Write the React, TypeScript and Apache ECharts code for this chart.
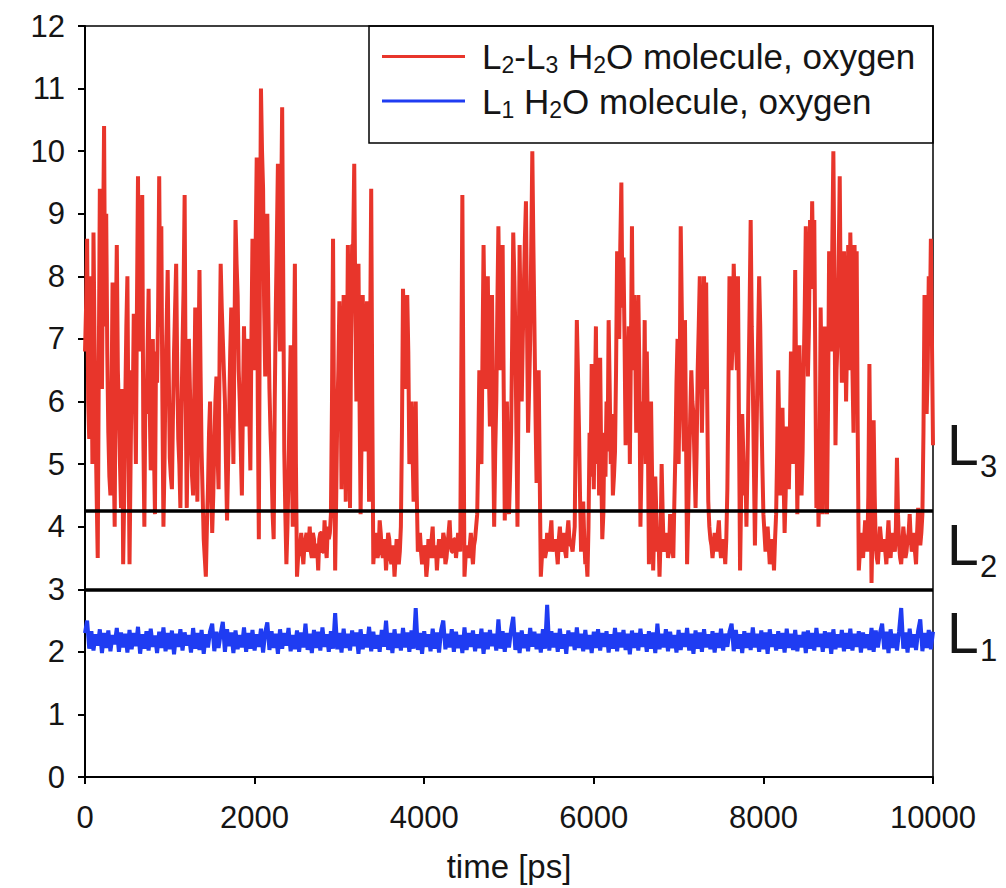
import React, { useEffect, useRef } from "react";
import * as echarts from "echarts";

const FONT = "'Liberation Sans', Arial, Helvetica, sans-serif";
const RED = "#e8352b";
const BLUE = "#1f3cf2";
const NAME_RED = "L2-L3 H2O molecule, oxygen";
const NAME_BLUE = "L1 H2O molecule, oxygen";

// time step between samples [ps]
const TIME_STEP = 25;
const X_TICKS = [0, 2000, 4000, 6000, 8000, 10000];
const Y_TICKS = [0, 1, 2, 3, 4, 5, 6, 7, 8, 9, 10, 11, 12];
const LAYER_BOUNDS = [4.25, 3];

// distance of L2-L3 water oxygen, read at t = 0, 25, 50 ... 10000 ps
const redValues = [
  6.8, 8.6, 5.4, 7.2, 8.7, 5.6, 3.5, 9.4, 6.2, 10.4, 9.0, 5.5, 4.5, 7.9, 4.0, 8.5, 5.8, 4.3, 3.4, 6.0, 8.0, 3.4,
  6.5, 7.4, 5.0, 9.6, 6.8, 9.3, 4.0, 5.8, 7.8, 4.9, 7.0, 4.2, 6.3, 9.6, 8.8, 4.0, 6.5, 8.1, 5.1, 4.6, 6.8, 8.2,
  5.4, 4.3, 6.9, 9.3, 4.3, 7.0, 5.5, 4.5, 7.5, 4.4, 8.1, 5.2, 3.8, 3.2, 4.6, 6.0,
  3.9, 5.3, 6.4, 4.6, 8.2, 7.0, 6.0, 4.1, 5.8, 7.5, 5.0, 8.9, 7.7, 6.0, 4.5, 7.2, 5.6, 7.0, 4.9, 8.6, 6.5, 9.9,
  3.8, 11.0, 9.4, 6.4, 9.0, 6.2, 5.0, 3.8, 7.5, 9.8, 6.8, 10.7, 5.2, 3.4, 4.8, 6.9, 4.0, 8.2, 3.2,
  3.6, 3.9, 3.4, 3.8, 3.6, 4.0, 3.5, 3.8, 3.7, 3.3, 3.9, 3.6, 4.1, 3.5, 3.8, 4.2,
  8.6, 3.3, 5.8, 7.6, 4.6, 7.7, 4.4, 8.5, 4.3, 8.5, 9.8, 6.0, 8.2, 4.2, 7.7, 5.2, 7.6, 4.4, 9.4, 3.4,
  3.9, 3.5, 4.1, 3.6, 3.8, 3.3, 3.9, 3.5, 3.7, 3.2, 3.8, 3.4, 4.0,
  7.8, 6.2, 7.7, 5.0, 6.0, 4.4, 6.0, 3.6,
  3.9, 3.4, 3.7, 3.2, 3.8, 3.5, 4.0, 3.6, 3.3, 3.8, 3.5, 3.9, 3.4, 3.7, 4.1, 3.6, 3.8, 3.5, 3.9, 3.6,
  9.3, 3.2,
  3.7, 3.5, 3.9, 3.4, 3.8, 4.2,
  6.5, 5.0, 8.5, 6.2, 8.0, 5.6, 7.7, 4.0, 6.0, 8.8, 6.5, 8.5, 4.1, 6.0, 4.2, 5.5, 8.7, 7.1, 4.0, 8.5, 6.0, 7.8,
  9.2, 5.5, 7.0, 10.0, 7.2, 4.7, 6.5, 3.2,
  3.8, 3.5, 3.9, 3.6, 4.1, 3.7, 3.8, 3.4, 4.0, 3.6, 3.9, 3.5, 4.1, 3.7, 3.6, 4.0,
  7.3, 5.6, 3.6, 4.4, 3.4, 3.2, 5.5, 6.6, 4.6, 7.2, 6.0, 6.7, 3.8, 5.5, 6.0, 7.3, 5.0, 4.5, 5.2, 8.4, 7.0, 9.5,
  8.3, 5.3, 6.5, 5.0, 8.8, 7.7, 5.5, 7.7, 4.0, 6.0, 7.3, 6.8, 3.4, 6.0, 3.3, 4.8, 3.6, 3.2, 5.0, 3.6, 3.8, 3.5,
  4.2, 3.7, 4.4, 6.3,
  5.0, 8.8, 6.0, 7.3, 3.4, 5.0, 6.5, 5.8, 4.3, 6.5, 8.0, 5.5, 8.0, 7.9, 4.4, 3.8, 3.5, 3.9, 3.6, 4.1, 3.5, 3.8,
  3.4, 4.6, 8.0, 6.5, 8.2, 7.0, 8.0, 3.3, 5.8, 4.5, 4.0, 6.3, 8.9, 6.3, 3.7, 6.0, 8.0, 6.0, 4.2, 3.6, 4.0, 3.4,
  3.8, 3.3, 4.2, 6.5, 4.5, 5.9, 3.9, 5.6, 4.6, 6.8, 5.0, 8.1, 4.2,
  6.9, 4.5, 6.5, 8.8, 6.4, 8.9, 9.2, 8.9, 4.3, 4.0, 7.5, 4.2, 7.2, 4.2, 8.4, 6.8, 10.0, 5.3, 7.0, 9.6, 6.3, 8.4,
  6.0, 8.5, 8.7, 6.5, 8.5, 8.4, 3.3, 3.9, 3.5, 4.1, 3.6, 6.6, 3.1, 5.7, 3.7, 3.4, 4.0, 3.6, 3.8, 3.4, 4.1, 3.5,
  3.9, 3.6, 5.1, 3.7, 3.4, 4.0, 3.5, 3.8, 4.2, 3.6, 3.9, 3.4, 4.3, 3.7, 4.2, 7.7, 5.8, 8.0, 8.6, 5.3,
];

// distance of L2-L3 water oxygen, read at the in-between times t = 12.5, 37.5 ... 9987.5 ps
const redValuesMid = [
  7.5, 6.0, 8.0, 5.0, 7.0, 4.5, 6.5, 7.8, 8.5, 7.2, 6.8, 4.8, 6.0, 5.2, 7.0, 6.5, 5.0, 6.2, 4.5, 7.2, 5.5, 5.0,
  5.8, 6.2, 7.5, 7.0, 8.0, 5.5, 6.2, 6.8, 6.0, 5.5, 5.3, 6.8, 7.5, 7.2, 6.0, 5.0, 7.2, 6.5, 4.8, 5.8,
  7.5, 6.5, 5.0, 5.8, 7.8, 6.0, 5.5, 6.2, 4.8, 6.0, 5.8, 6.5, 6.5, 4.5, 3.5, 4.0, 5.5, 4.8,
  4.5, 6.0, 5.2, 6.8, 7.5, 6.5, 5.0, 5.0, 6.8, 6.2, 7.0, 8.2, 6.5, 5.2, 6.0, 6.3, 6.5, 5.8, 7.0, 7.5,
  8.5, 6.0, 8.0, 10.0, 7.5, 8.0, 7.5, 5.5, 4.2, 6.0, 8.6, 8.0, 9.0, 8.0, 4.2, 4.0, 6.0, 5.2, 6.5, 5.0,
  3.5, 3.7, 3.6, 3.7, 3.9, 3.7, 3.6, 3.9, 3.5, 3.7, 3.8, 3.9, 3.6, 3.7, 4.0, 3.9,
  6.0, 5.5, 4.5, 6.5, 6.8, 6.0, 6.5, 6.2, 6.8, 7.0, 8.5, 7.5, 6.5, 6.0, 5.5, 6.8, 6.2, 6.5, 7.0, 6.0,
  3.7, 3.8, 3.6, 3.9, 3.5, 3.7, 3.6, 3.8, 3.4, 3.6, 3.5, 3.7, 3.6,
  5.5, 7.2, 6.5, 6.8, 5.5, 5.2, 5.0, 4.5,
  3.7, 3.6, 3.5, 3.6, 3.4, 3.7, 3.8, 3.5, 3.7, 3.6, 3.7, 3.6, 3.8, 3.5, 3.9, 3.7, 3.6, 3.8, 3.7, 3.8,
  6.5, 6.0, 3.5,
  3.6, 3.7, 3.6, 3.7, 4.0, 5.2,
  5.8, 6.8, 7.2, 7.0, 6.5, 6.8, 5.5, 5.2, 7.5, 7.5, 7.2, 6.2, 5.0, 5.0, 4.8, 7.0, 8.0, 5.5, 6.2, 7.2,
  7.0, 8.6, 7.2, 6.2, 8.5, 8.5, 5.8, 5.5, 4.8,
  3.5, 3.7, 3.6, 3.8, 3.9, 3.6, 3.7, 3.6, 3.8, 3.7, 3.8, 3.6, 3.9, 3.8, 3.7, 3.8,
  5.8,
  6.5, 4.5, 3.9, 3.8, 3.5, 4.0, 4.8, 5.5, 6.0, 5.0, 4.5, 5.0, 4.2, 4.8, 5.2, 6.2, 5.8, 4.8, 6.5, 8.0,
  8.5, 7.5, 7.0, 6.0, 7.2, 6.8, 6.5, 7.0, 6.2, 6.5, 5.0, 5.5, 5.0, 5.5, 4.5, 4.8, 4.0, 4.2, 3.9, 3.8,
  4.2, 3.7, 3.9, 3.6, 3.9, 3.5, 5.2,
  7.0, 6.2, 7.5, 5.2, 5.5, 4.2, 5.8, 6.0, 5.0, 5.2, 7.2, 6.8, 6.5, 6.2, 6.0, 4.0, 3.7, 3.7, 3.8, 3.9,
  3.7, 3.6, 3.7, 3.8, 6.2, 7.5, 7.0, 7.5, 6.5, 5.5, 4.5, 5.2, 5.0, 5.0, 7.5, 7.2, 5.0, 4.8, 7.0, 7.2,
  5.0, 3.9, 3.8, 3.7, 3.6, 3.7, 3.8, 5.2, 5.5, 5.0, 4.8, 4.5, 5.2, 5.5, 6.2, 6.5, 6.0,
  5.5, 6.0, 5.2, 7.5, 7.8, 7.2, 7.8, 8.0, 6.5, 5.5, 5.0, 6.2, 5.5, 6.0, 6.0, 7.5, 8.5, 8.0, 6.5, 8.2,
  7.5, 7.2, 7.5, 7.0, 6.5, 7.8, 5.5, 6.8, 5.5, 3.6, 3.7, 3.8, 3.9, 4.5, 4.8, 4.0, 4.5, 3.5, 3.7, 3.8,
  3.7, 3.6, 3.8, 3.7, 3.8, 3.7, 4.0, 4.2, 3.5, 3.7, 3.8, 3.6, 3.9, 3.8, 3.7, 3.6, 3.9, 4.0, 3.9, 5.5,
  6.8, 6.5, 7.2, 7.0,
];

// distance of L1 water oxygen, read at t = 0, 25, 50 ... 10000 ps
const blueValues = [
  2.30, 2.50, 2.05, 2.33, 2.02, 2.28, 2.10, 2.36, 1.98, 2.30, 2.06, 2.34, 2.01, 2.27, 2.12, 2.38, 2.00, 2.31, 2.07, 2.29,
  1.99, 2.35, 2.04, 2.30, 2.09, 2.40, 1.97, 2.28, 2.05, 2.33, 2.02, 2.37, 2.08, 2.26, 1.98, 2.32, 2.06, 2.39, 2.01, 2.30,
  2.04, 2.34, 1.96, 2.29, 2.08, 2.36, 2.02, 2.31, 2.10, 2.27, 1.99, 2.38, 2.05, 2.30, 2.03, 2.35, 1.97, 2.28, 2.07, 2.33,
  2.45, 2.01, 2.32, 2.06, 2.29, 2.48, 2.00, 2.36, 2.09, 2.31, 1.98, 2.34, 2.04, 2.27, 2.07, 2.39, 2.00, 2.30, 2.05, 2.35,
  2.02, 2.28, 2.08, 2.37, 1.99, 2.31, 2.47, 2.03, 2.33, 2.06, 2.29, 1.97, 2.36, 2.05, 2.30, 2.10, 2.38, 2.01, 2.27, 2.04,
  2.34, 2.00, 2.31, 2.07, 2.45, 2.03, 2.29, 1.98, 2.35, 2.06, 2.32, 2.02, 2.39, 2.08, 2.28, 2.00, 2.33, 2.05, 2.62, 2.04,
  2.30, 1.99, 2.37, 2.06, 2.29, 2.02, 2.34, 2.09, 2.31, 1.97, 2.36, 2.04, 2.28, 2.07, 2.40, 2.01, 2.32, 2.05, 2.27, 2.00,
  2.35, 2.08, 2.50, 2.03, 2.30, 1.98, 2.36, 2.06, 2.29, 2.02, 2.38, 2.07, 2.31, 2.00, 2.34, 2.05, 2.70, 2.03, 2.30, 1.97,
  2.33, 2.08, 2.28, 2.01, 2.37, 2.05, 2.31, 1.99, 2.35, 2.50, 2.04, 2.29, 2.07, 2.36, 2.00, 2.32, 2.06, 2.27, 1.98, 2.39,
  2.03, 2.30, 2.08, 2.34, 2.01, 2.28, 2.06, 2.37, 1.97, 2.31, 2.04, 2.35, 2.09, 2.29, 2.02, 2.52, 2.05, 2.33, 2.00, 2.30,
  2.07, 2.36, 2.56, 2.03, 2.31, 1.98, 2.34, 2.06, 2.28, 2.01, 2.38, 2.08, 2.32, 2.04, 2.29, 1.99, 2.36, 2.05, 2.75, 2.02,
  2.33, 2.07, 2.30, 2.00, 2.37, 2.05, 2.28, 1.97, 2.34, 2.09, 2.31, 2.03, 2.39, 2.06, 2.29, 2.01, 2.35, 2.04, 2.27, 1.98,
  2.32, 2.06, 2.36, 2.02, 2.30, 2.08, 2.33, 1.99, 2.28, 2.05, 2.38, 2.01, 2.31, 2.07, 2.35, 2.03, 2.29, 1.96, 2.34, 2.06,
  2.30, 2.02, 2.37, 2.08, 2.28, 2.00, 2.33, 2.05, 2.31, 1.98, 2.45, 2.04, 2.29, 2.07, 2.36, 2.01, 2.32, 2.06, 2.27, 1.99,
  2.35, 2.03, 2.30, 2.08, 2.38, 2.02, 2.29, 1.97, 2.34, 2.05, 2.31, 2.00, 2.36, 2.07, 2.28, 2.04, 2.33, 1.99, 2.30, 2.06,
  2.37, 2.02, 2.29, 2.08, 2.32, 2.45, 2.01, 2.35, 2.05, 2.28, 1.98, 2.33, 2.06, 2.30, 2.03, 2.39, 2.07, 2.29, 2.00, 2.34,
  2.04, 2.31, 1.97, 2.36, 2.08, 2.28, 2.02, 2.33, 2.05, 2.30, 1.99, 2.37, 2.06, 2.29, 2.03, 2.35, 2.01, 2.27, 2.07, 2.32,
  1.98, 2.34, 2.05, 2.30, 2.02, 2.38, 2.08, 2.29, 2.00, 2.33, 2.06, 2.31, 1.97, 2.36, 2.04, 2.28, 2.07, 2.35, 2.01, 2.30,
  2.05, 2.37, 2.02, 2.29, 2.08, 2.33, 1.99, 2.31, 2.06, 2.28, 2.03, 2.38, 2.00, 2.34, 2.07, 2.30, 2.45, 2.04, 2.32, 1.98,
  2.36, 2.06, 2.29, 2.02, 2.33, 2.70, 2.05, 2.31, 1.99, 2.37, 2.07, 2.28, 2.03, 2.34, 2.52, 2.01, 2.30, 2.06, 2.35, 2.04,
  2.32,
];

const LAYER_LABELS = [
  { main: "L", sub: "3", y: 445, subY: 466 },
  { main: "L", sub: "2", y: 545, subY: 566 },
  { main: "L", sub: "1", y: 633, subY: 650 },
];

const redPairs = () => {
  const out: number[][] = [];
  redValues.forEach((v, i) => {
    out.push([i * TIME_STEP, v]);
    if (i < redValuesMid.length) out.push([i * TIME_STEP + TIME_STEP / 2, redValuesMid[i]]);
  });
  return out;
};
const bluePairs = () => blueValues.map((v, i) => [i * TIME_STEP, v]);

export default function App() {
  const ref = useRef<HTMLDivElement>(null);

  useEffect(() => {
    if (!ref.current) return;
    const chart = echarts.init(ref.current, null, { renderer: "svg" });
    const textColor = "#151515";
    const option: any = {
      animation: false,
      backgroundColor: "#ffffff",
      textStyle: { fontFamily: FONT },
      grid: {
        left: 85,
        right: 73,
        top: 26,
        bottom: 110,
        show: true,
        borderColor: "#000",
        borderWidth: 1.5,
        backgroundColor: "transparent",
      },
      legend: {
        orient: "vertical",
        left: 382,
        top: 39,
        padding: 0,
        itemGap: 7,
        itemWidth: 83,
        itemHeight: 3,
        icon: "rect",
        selectedMode: false,
        data: [NAME_RED, NAME_BLUE],
        formatter: (name: string) =>
          name === NAME_RED
            ? "{f|L}{s|2}{n|-L}{s|3}{n| H}{s|2}{n|O molecule, oxygen}"
            : "{f|L}{s|1}{n| H}{s|2}{n|O molecule, oxygen}",
        textStyle: {
          fontFamily: FONT,
          color: textColor,
          rich: {
            f: { fontSize: 35, lineHeight: 40, padding: [0, 0, 0, 12], color: textColor, fontFamily: FONT },
            n: { fontSize: 35, lineHeight: 40, color: textColor, fontFamily: FONT },
            s: { fontSize: 23, lineHeight: 18, verticalAlign: "bottom", color: textColor, fontFamily: FONT },
          },
        },
      },
      xAxis: {
        type: "value",
        min: X_TICKS[0],
        max: X_TICKS[X_TICKS.length - 1],
        interval: X_TICKS[1] - X_TICKS[0],
        name: "time [ps]",
        nameLocation: "middle",
        nameGap: 73,
        nameTextStyle: { fontSize: 33, color: textColor, fontFamily: FONT },
        axisLine: { lineStyle: { color: "#000", width: 2 } },
        axisTick: { inside: false, length: 7, lineStyle: { color: "#000", width: 2 } },
        axisLabel: {
          fontSize: 31,
          color: textColor,
          margin: 25,
          fontFamily: FONT,
          formatter: (v: number) => String(v),
        },
        splitLine: { show: false },
      },
      yAxis: {
        type: "value",
        min: Y_TICKS[0],
        max: Y_TICKS[Y_TICKS.length - 1],
        interval: Y_TICKS[1] - Y_TICKS[0],
        axisLine: { show: true, lineStyle: { color: "#000", width: 2 } },
        axisTick: { show: true, inside: false, length: 7, lineStyle: { color: "#000", width: 2 } },
        axisLabel: { fontSize: 31, color: textColor, margin: 20, fontFamily: FONT },
        splitLine: { show: false },
      },
      series: [
        {
          name: NAME_RED,
          type: "line",
          data: redPairs(),
          showSymbol: false,
          symbol: "none",
          color: RED,
          lineStyle: { color: RED, width: 4 },
          z: 2,
          markLine: {
            silent: true,
            symbol: ["none", "none"],
            label: { show: false },
            lineStyle: { color: "#000", width: 3.5, type: "solid" },
            data: LAYER_BOUNDS.map((b) => ({ yAxis: b })),
          },
        },
        {
          name: NAME_BLUE,
          type: "line",
          data: bluePairs(),
          showSymbol: false,
          symbol: "none",
          color: BLUE,
          lineStyle: { color: BLUE, width: 4 },
          z: 2,
        },
      ],
      graphic: [
        {
          type: "rect",
          shape: { x: 369, y: 26, width: 564, height: 117 },
          style: { fill: "transparent", stroke: "#000", lineWidth: 1.5 },
          z: 5,
          silent: true,
        },
        ...LAYER_LABELS.flatMap((l) => [
          {
            type: "text",
            x: 947,
            y: l.y,
            silent: true,
            style: { text: l.main, fontSize: 57, fontFamily: FONT, fill: textColor, verticalAlign: "middle" },
          },
          {
            type: "text",
            x: 980,
            y: l.subY,
            silent: true,
            style: { text: l.sub, fontSize: 31, fontFamily: FONT, fill: textColor, verticalAlign: "middle" },
          },
        ]),
      ],
    };
    chart.setOption(option);
    return () => chart.dispose();
  }, []);

  return (
    <div
      ref={ref}
      style={{ position: "absolute", left: 0, top: 0, width: 1006, height: 888, background: "#fff" }}
    />
  );
}
